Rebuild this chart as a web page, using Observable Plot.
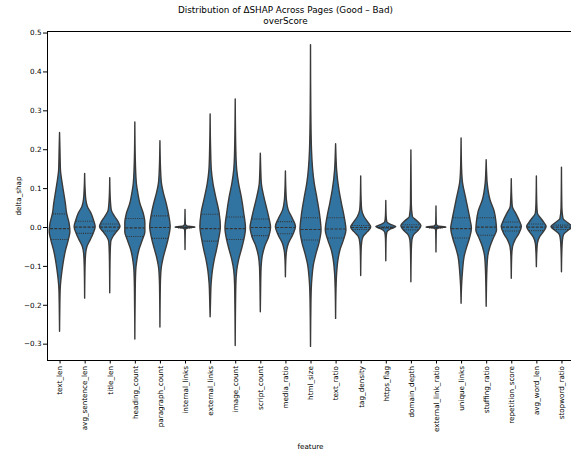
<!DOCTYPE html>
<html><head><meta charset="utf-8">
<script src="https://cdn.jsdelivr.net/npm/d3@7"></script>
<script src="https://cdn.jsdelivr.net/npm/@observablehq/plot@0.6"></script>
<style>
body{margin:0;background:#fff;}
#wrap{position:relative;width:571px;height:454px;font-family:"DejaVu Sans",sans-serif;color:#000;overflow:hidden;}
#title{position:absolute;left:0;top:5px;width:571px;text-align:center;font-size:8.8px;line-height:10.5px;}
#xlabel{position:absolute;left:0;width:621px;top:442px;text-align:center;font-size:7.2px;}
#ylabel{position:absolute;left:18px;top:196px;font-size:7.2px;transform:translate(-50%,-50%) rotate(-90deg);white-space:nowrap;}
#wrap svg{position:absolute;left:0;top:0;}
</style></head><body>
<div id="wrap"><div id="title">Distribution of ΔSHAP Across Pages (Good – Bad)<br>overScore</div>
<div id="xlabel">feature</div><div id="ylabel">delta_shap</div></div>
<script>
const features = ["text_len","avg_sentence_len","title_len","heading_count","paragraph_count","internal_links","external_links","image_count","script_count","media_ratio","html_size","text_ratio","tag_density","https_flag","domain_depth","external_link_ratio","unique_links","stuffing_ratio","repetition_score","avg_word_len","stopword_ratio"];
const maxVals = [0.243,0.138,0.127,0.270,0.222,0.045,0.291,0.329,0.190,0.144,0.469,0.214,0.131,0.068,0.198,0.054,0.229,0.173,0.124,0.131,0.154];
const minVals = [-0.268,-0.183,-0.169,-0.288,-0.257,-0.058,-0.231,-0.305,-0.218,-0.128,-0.307,-0.235,-0.125,-0.087,-0.141,-0.064,-0.196,-0.204,-0.132,-0.102,-0.115];
const q1Vals = [-0.031,-0.015,-0.009,-0.023,-0.028,-0.001,-0.035,-0.031,-0.021,-0.016,-0.032,-0.027,-0.005,-0.002,-0.006,-0.001,-0.027,-0.020,-0.009,-0.008,-0.005];
const medianVals = [-0.003,0.001,0.001,-0.001,0.000,0.000,-0.003,-0.003,0.000,0.000,-0.005,-0.004,0.000,0.000,0.001,0.000,-0.003,0.001,0.001,0.001,0.001];
const q3Vals = [0.035,0.016,0.009,0.023,0.030,0.001,0.034,0.027,0.022,0.015,0.025,0.025,0.005,0.002,0.007,0.001,0.025,0.025,0.014,0.009,0.006];
// density profiles: [delta_shap value, relative density]
const densityProfiles = [
 [[0.2,0.4],[0.147,0.9],[0.113,2.6],[0.087,4.2],[0.061,5.8],[0.036,7],[0.010,9.5],[-0.012,10.3],[-0.033,8.7],[-0.059,6],[-0.085,4],[-0.111,2.5],[-0.137,1.3],[-0.162,0.6],[-0.2,0.3]],
 [[0.1,0.4],[0.07,1.2],[0.053,2.7],[0.036,6.3],[0.018,8.8],[0.001,10.5],[-0.016,8.5],[-0.033,5.5],[-0.05,2.3],[-0.068,1],[-0.1,0.4]],
 [[0.08,0.4],[0.044,1.5],[0.027,5],[0.014,8.3],[0.001,10.2],[-0.012,6.7],[-0.025,3],[-0.038,1],[-0.07,0.4]],
 [[0.18,0.4],[0.113,1.5],[0.087,3],[0.061,5],[0.036,8.3],[0.010,10],[-0.012,10],[-0.033,7.5],[-0.059,4],[-0.085,2],[-0.111,0.9],[-0.16,0.4]],
 [[0.15,0.6],[0.113,1.5],[0.087,3.5],[0.061,6.2],[0.031,8.7],[0.001,10.2],[-0.029,8.3],[-0.055,5.7],[-0.081,3],[-0.107,1.2],[-0.15,0.4]],
 [[0.008,0.3],[0.003,1.5],[0.0,10],[-0.003,1.5],[-0.008,0.3]],
 [[0.198,0.5],[0.147,1.2],[0.113,2.8],[0.078,5.5],[0.036,9],[0.001,10.2],[-0.033,8.3],[-0.059,6.3],[-0.085,4],[-0.111,2.3],[-0.145,1],[-0.19,0.4]],
 [[0.198,0.6],[0.147,1.5],[0.113,3.3],[0.078,6],[0.036,8.5],[-0.003,10.2],[-0.033,8.5],[-0.059,6],[-0.085,3.3],[-0.111,1.5],[-0.15,0.6]],
 [[0.15,0.4],[0.113,1],[0.078,3.5],[0.044,6.7],[0.018,9],[0.0,10.2],[-0.025,8.3],[-0.05,4.3],[-0.076,1.8],[-0.102,0.8],[-0.14,0.4]],
 [[0.1,0.4],[0.07,1],[0.044,2.8],[0.022,7],[0.001,10],[-0.02,7.3],[-0.042,3],[-0.059,1.3],[-0.085,0.4]],
 [[0.3,0.3],[0.198,1],[0.113,3.7],[0.07,6.7],[0.027,9.3],[-0.008,10.5],[-0.038,8.7],[-0.068,5.5],[-0.098,2.8],[-0.128,1.5],[-0.162,0.7],[-0.22,0.3]],
 [[0.18,0.4],[0.147,1],[0.096,3.3],[0.061,5.8],[0.027,8.5],[-0.008,10.3],[-0.033,7.8],[-0.059,4.3],[-0.085,2.3],[-0.12,1],[-0.16,0.4]],
 [[0.07,0.4],[0.044,1],[0.027,3.3],[0.011,7.5],[0.0,10],[-0.012,6.7],[-0.023,2.7],[-0.038,1],[-0.06,0.4]],
 [[0.03,0.3],[0.014,1],[0.006,5.3],[0.001,10],[-0.005,4.7],[-0.014,1],[-0.03,0.3]],
 [[0.06,0.4],[0.027,1.5],[0.016,6],[0.003,10],[-0.01,6.7],[-0.02,2.7],[-0.033,1],[-0.06,0.4]],
 [[0.008,0.3],[0.003,1.5],[0.0,10],[-0.003,1.5],[-0.008,0.3]],
 [[0.15,0.5],[0.113,1.5],[0.078,4.3],[0.044,7],[0.018,9],[-0.003,10.3],[-0.029,8.3],[-0.05,5.7],[-0.076,3],[-0.111,1.5],[-0.15,0.5]],
 [[0.14,0.4],[0.113,1],[0.07,3.8],[0.04,8],[0.014,9.7],[-0.008,10.3],[-0.029,7],[-0.05,3.8],[-0.076,1.5],[-0.111,0.7],[-0.15,0.3]],
 [[0.08,0.4],[0.053,1],[0.036,4.3],[0.018,7.7],[0.001,10],[-0.016,7.7],[-0.033,3.7],[-0.05,1.3],[-0.075,0.4]],
 [[0.06,0.4],[0.036,1],[0.018,5.7],[0.001,9.7],[-0.012,7],[-0.026,3],[-0.042,1],[-0.065,0.4]],
 [[0.05,0.4],[0.022,1.5],[0.011,6.3],[0.001,10.5],[-0.009,6.3],[-0.02,2],[-0.033,1],[-0.06,0.4]]
];
const yTicks = [-0.3,-0.2,-0.1,0.0,0.1,0.2,0.3,0.4,0.5];

const K = 0.4 / 10; // density -> half width in band units
const rows = [];
features.forEach((f, i) => {
  const pts = [[maxVals[i], 0], ...densityProfiles[i], [minVals[i], 0]];
  pts.sort((a, b) => a[0] - b[0]);
  pts.forEach(([v, d]) => rows.push({i, v, d}));
});
function densAt(i, v) {
  const pts = [[maxVals[i], 0], ...densityProfiles[i], [minVals[i], 0]].sort((a, b) => a[0] - b[0]);
  for (let j = 0; j < pts.length - 1; j++) {
    const [v0, d0] = pts[j], [v1, d1] = pts[j + 1];
    if (v >= v0 && v <= v1) return d0 + (d1 - d0) * (v - v0) / (v1 - v0 || 1);
  }
  return 0;
}
const medRows = features.map((f, i) => ({i, v: medianVals[i], d: densAt(i, medianVals[i])}));
const qRows = features.flatMap((f, i) => [q1Vals[i], q3Vals[i]].map(v => ({i, v, d: densAt(i, v)})));

const yDom = [-0.342, 0.504];
const xDom = [-0.5, 20.38];
const chart = Plot.plot({
  width: 571, height: 454,
  marginLeft: 47, marginRight: 0, marginTop: 31, marginBottom: 94,
  style: {fontFamily: "DejaVu Sans, sans-serif", fontSize: "7.2px", color: "#000", background: "transparent"},
  x: {domain: xDom, axis: null},
  y: {domain: yDom, axis: null},
  marks: [
    Plot.areaX(rows, {y: "v", x1: d => d.i - d.d * K, x2: d => d.i + d.d * K, z: "i", fill: "#3274a1", stroke: "#3a3a3a", strokeWidth: 1.4, curve: "monotone-y"}),
    Plot.ruleY(medRows, {y: "v", x1: d => d.i - d.d * K * 0.95, x2: d => d.i + d.d * K * 0.95, stroke: "#333", strokeWidth: 1.1, strokeDasharray: "3,1.3"}),
    Plot.ruleY(qRows, {y: "v", x1: d => d.i - d.d * K * 0.95, x2: d => d.i + d.d * K * 0.95, stroke: "#333", strokeWidth: 1.1, strokeDasharray: "1,1.2"}),
    Plot.axisY({ticks: yTicks, tickFormat: d3.format(".1f"), tickSize: 4, tickPadding: 2, label: null, fontSize: 7.2}),
    Plot.axisX({ticks: d3.range(features.length), tickFormat: i => features[i], tickRotate: -90, tickSize: 3.5, tickPadding: 2, label: null, fontSize: 7.2}),
    Plot.ruleX([xDom[0]], {stroke: "#000", strokeWidth: 1}),
    Plot.ruleY(yDom, {stroke: "#000", strokeWidth: 1})
  ]
});
document.getElementById("wrap").appendChild(chart);
</script></body></html>
